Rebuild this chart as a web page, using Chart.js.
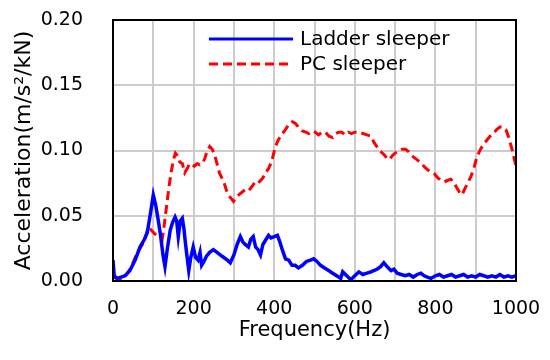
<!DOCTYPE html>
<html>
<head>
<meta charset="utf-8">
<script src="https://cdn.jsdelivr.net/npm/chart.js@4/dist/chart.umd.min.js"></script>
<style>
  html, body { margin: 0; padding: 0; background: #fff; }
  #wrap { width: 550px; height: 360px; }
</style>
</head>
<body>
<div id="wrap"><canvas id="accelChart"></canvas></div>
<script>
"use strict";

// Ladder sleeper (blue, solid)
const ladderFreq = [0, 3, 10, 20, 30, 42, 55, 67, 78, 85, 92, 100, 106, 112, 118, 124, 129, 135, 142, 148,
    154, 158, 162, 167, 172, 176, 179, 184, 188, 193, 199, 205, 211, 216, 220, 224, 232, 240, 249, 258,
    266, 275, 284, 291, 300, 308, 316, 322, 328, 336, 342, 348, 354, 360, 366, 372, 380, 386, 392, 400,
    408, 414, 420, 428, 436, 444, 452, 460, 470, 480, 490, 498, 506, 515, 525, 535, 545, 555, 565, 570,
    580, 590, 600, 610, 620, 630, 640, 647, 655, 664, 672, 680, 690, 697, 705, 715, 725, 735, 745, 755,
    764, 772, 780, 789, 800, 810, 820, 830, 840, 850, 860, 870, 880, 890, 900, 910, 920, 930, 940, 950,
    960, 970, 980, 990, 1000];
const ladderAcc = [0.016, 0.004, 0.002, 0.003, 0.004, 0.008, 0.016, 0.026, 0.032, 0.037, 0.050, 0.066, 0.058, 0.047, 0.035, 0.020, 0.011, 0.025, 0.039, 0.045,
    0.049, 0.046, 0.034, 0.046, 0.048, 0.040, 0.031, 0.018, 0.008, 0.018, 0.026, 0.018, 0.016, 0.022, 0.012, 0.014, 0.019, 0.022, 0.024, 0.022,
    0.020, 0.018, 0.016, 0.014, 0.020, 0.028, 0.034, 0.030, 0.028, 0.026, 0.032, 0.034, 0.026, 0.024, 0.020, 0.028, 0.032, 0.035, 0.033, 0.034,
    0.035, 0.030, 0.024, 0.017, 0.016, 0.012, 0.012, 0.010, 0.012, 0.015, 0.016, 0.017, 0.015, 0.012, 0.010, 0.008, 0.006, 0.004, 0.002, 0.007,
    0.004, 0.001, 0.004, 0.007, 0.005, 0.006, 0.007, 0.008, 0.009, 0.011, 0.014, 0.011, 0.008, 0.009, 0.006, 0.005, 0.004, 0.005, 0.003, 0.005,
    0.006, 0.004, 0.003, 0.002, 0.004, 0.005, 0.003, 0.004, 0.005, 0.003, 0.004, 0.005, 0.003, 0.004, 0.003, 0.005, 0.004, 0.003, 0.004, 0.003,
    0.005, 0.003, 0.004, 0.003, 0.004];

// PC sleeper (red, dashed)
const pcFreq = [0, 8, 17, 25, 30, 36, 42, 48, 55, 62, 67, 75, 82, 87, 92, 98, 104, 110, 116, 122,
    126, 132, 138, 144, 150, 155, 160, 166, 172, 178, 184, 190, 196, 202, 209, 215, 222, 228, 234, 240,
    246, 252, 258, 264, 270, 276, 282, 288, 294, 299, 305, 312, 320, 328, 336, 344, 353, 360, 366, 372,
    378, 386, 394, 403, 410, 418, 428, 436, 445, 452, 460, 470, 478, 486, 494, 502, 510, 518, 527, 536,
    545, 553, 560, 568, 576, 584, 592, 600, 610, 620, 630, 640, 648, 657, 665, 672, 680, 686, 693, 700,
    710, 718, 726, 734, 742, 750, 758, 766, 774, 782, 790, 798, 806, 814, 822, 830, 838, 845, 852, 860,
    866, 872, 880, 888, 895, 903, 912, 920, 928, 936, 944, 952, 960, 968, 975, 982, 990, 1000];
const pcAcc = [0.003, 0.002, 0.001, 0.003, 0.004, 0.006, 0.009, 0.013, 0.018, 0.023, 0.025, 0.029, 0.035, 0.041, 0.040, 0.038, 0.036, 0.035, 0.034, 0.032,
    0.040, 0.055, 0.070, 0.083, 0.093, 0.098, 0.096, 0.091, 0.090, 0.083, 0.086, 0.090, 0.089, 0.088, 0.090, 0.089, 0.090, 0.094, 0.100, 0.103,
    0.101, 0.097, 0.090, 0.083, 0.079, 0.075, 0.069, 0.065, 0.063, 0.061, 0.064, 0.066, 0.068, 0.070, 0.069, 0.072, 0.076, 0.075, 0.077, 0.079,
    0.083, 0.086, 0.092, 0.103, 0.108, 0.112, 0.116, 0.120, 0.122, 0.121, 0.118, 0.115, 0.114, 0.113, 0.115, 0.114, 0.112, 0.114, 0.114, 0.111,
    0.110, 0.113, 0.114, 0.114, 0.112, 0.114, 0.113, 0.114, 0.114, 0.113, 0.112, 0.111, 0.106, 0.102, 0.099, 0.097, 0.094, 0.093, 0.096, 0.098,
    0.100, 0.101, 0.101, 0.099, 0.096, 0.094, 0.092, 0.090, 0.087, 0.085, 0.083, 0.082, 0.079, 0.077, 0.076, 0.077, 0.078, 0.076, 0.072, 0.068,
    0.066, 0.070, 0.075, 0.080, 0.086, 0.095, 0.101, 0.105, 0.108, 0.111, 0.113, 0.116, 0.118, 0.118, 0.116, 0.110, 0.101, 0.088];

const seriesNames = ["Ladder sleeper", "PC sleeper"];
const xTitle = "Frequency(Hz)";
const yTitle = "Acceleration(m/s\u00b2/kN)";

const FONT = "'DejaVu Sans', 'Liberation Sans', Arial, sans-serif";

const toPoints = (xs, ys) => xs.map((x, i) => ({ x: x, y: ys[i] }));

// frame + legend drawn inside the plot, top centre, no box
const insideLegend = {
    id: "insideLegend",
    afterDatasetsDraw(chart) {
        const c = chart.ctx;
        const area = chart.chartArea;
        c.save();
        c.strokeStyle = "#000";
        c.lineWidth = 2;
        c.strokeRect(area.left, area.top, area.right - area.left, area.bottom - area.top);

        c.font = "20px " + FONT;
        c.textBaseline = "middle";
        c.fillStyle = "#000";
        chart.data.datasets.forEach((ds, i) => {
            const y = 39 + i * 25;
            c.beginPath();
            c.strokeStyle = ds.borderColor;
            c.lineWidth = 3;
            c.setLineDash(ds.borderDash || []);
            c.moveTo(209, y);
            c.lineTo(293, y);
            c.stroke();
            c.setLineDash([]);
            c.fillText(ds.label, 300, y + 1);
        });
        c.restore();
    }
};

const gridStyle = { display: true, color: "#cccccc", lineWidth: 2, drawTicks: false };

new Chart(document.getElementById("accelChart"), {
    type: "line",
    data: {
        datasets: [
            {
                label: seriesNames[0],
                data: toPoints(ladderFreq, ladderAcc),
                borderColor: "#0000ff",
                borderWidth: 3.5,
                pointRadius: 0,
                tension: 0
            },
            {
                label: seriesNames[1],
                data: toPoints(pcFreq, pcAcc),
                borderColor: "#ff0000",
                borderWidth: 3,
                borderDash: [9, 5],
                pointRadius: 0,
                tension: 0
            }
        ]
    },
    options: {
        responsive: true,
        maintainAspectRatio: false,
        animation: false,
        layout: { padding: { left: 0, right: 34, top: 20, bottom: 0 } },
        plugins: {
            legend: { display: false },
            tooltip: { enabled: false }
        },
        scales: {
            x: {
                type: "linear",
                min: 0,
                max: 1000,
                afterFit: (s) => { s.height = 79; s.paddingLeft = 0; s.paddingRight = 0; },
                grid: gridStyle,
                border: { display: false },
                ticks: {
                    stepSize: 100,
                    padding: 17,
                    maxRotation: 0,
                    autoSkip: false,
                    color: "#000",
                    font: { family: FONT, size: 19 },
                    callback: (v) => (v % 200 === 0 ? String(v) : "")
                },
                title: {
                    display: true,
                    text: xTitle,
                    color: "#000",
                    font: { family: FONT, size: 21 },
                    padding: 17
                }
            },
            y: {
                min: 0,
                max: 0.2,
                afterFit: (s) => { s.width = 113; s.paddingTop = 0; s.paddingBottom = 0; },
                grid: gridStyle,
                border: { display: false },
                ticks: {
                    stepSize: 0.05,
                    padding: 30,
                    color: "#000",
                    font: { family: FONT, size: 19 },
                    callback: (v) => v.toFixed(2)
                },
                title: {
                    display: true,
                    text: yTitle,
                    color: "#000",
                    font: { family: FONT, size: 22 },
                    padding: 11
                }
            }
        }
    },
    plugins: [insideLegend]
});
</script>
</body>
</html>
